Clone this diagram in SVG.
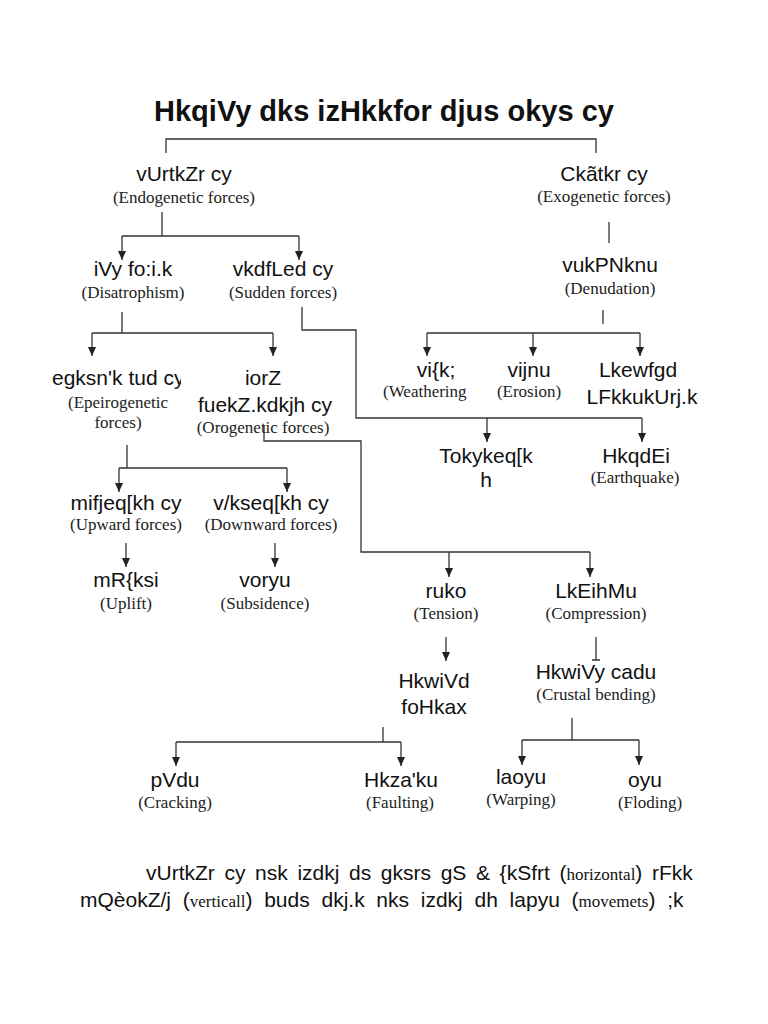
<svg xmlns="http://www.w3.org/2000/svg" width="768" height="1024" viewBox="0 0 768 1024">
<style>
.h{font-family:"Liberation Sans",Arial,sans-serif;font-size:21px;fill:#111;text-anchor:middle}
.e{font-family:"Liberation Serif","Times New Roman",serif;font-size:17px;fill:#222;text-anchor:middle}
.t{font-family:"Liberation Sans",Arial,sans-serif;font-size:29px;font-weight:bold;fill:#111;text-anchor:middle}
.p{font-family:"Liberation Sans",Arial,sans-serif;font-size:21px;fill:#111}
.ps{font-family:"Liberation Serif","Times New Roman",serif;font-size:17px}
.c{fill:none;stroke:#333;stroke-width:1.3}
.a{fill:none;stroke:#333;stroke-width:1.3;marker-end:url(#ah)}
</style>
<defs>
<marker id="ah" markerWidth="10" markerHeight="10" refX="9" refY="5" orient="auto" markerUnits="userSpaceOnUse"><path d="M0,1 L9,5 L0,9 z" fill="#222"/></marker>
<clipPath id="clipEp"><rect x="40" y="360" width="141" height="40"/></clipPath>
</defs>
<rect width="768" height="1024" fill="#fff"/>

<g id="connectors">
<path class="c" d="M166 153 V139 H596 V153"/>
<path class="c" d="M162 212 V236 M122 236 H299"/>
<path class="a" d="M122 236 V260"/>
<path class="a" d="M299 236 V260"/>
<path class="c" d="M122 312 V333 M92 333 H273"/>
<path class="a" d="M92 333 V356"/>
<path class="a" d="M273 333 V356"/>
<path class="c" d="M302 307 V330 H356 V418 H642"/>
<path class="a" d="M487 418 V442"/>
<path class="a" d="M642 418 V442"/>
<path class="c" d="M609 222 V243"/>
<path class="c" d="M603 310 V324 M427 333 H640"/>
<path class="a" d="M427 333 V356"/>
<path class="a" d="M533 333 V356"/>
<path class="a" d="M640 333 V356"/>
<path class="c" d="M127 445 V468 M119 468 H287"/>
<path class="a" d="M119 468 V492"/>
<path class="a" d="M287 468 V492"/>
<path class="c" d="M264 425 V441 H361 V552 H590"/>
<path class="a" d="M449 552 V577"/>
<path class="a" d="M590 552 V577"/>
<path class="a" d="M126 543 V567"/>
<path class="a" d="M275 543 V567"/>
<path class="a" d="M446 637 V661"/>
<path class="c" d="M596 637 V660 M592 660 H600"/>
<path class="c" d="M383 727 V742 M176 742 H401"/>
<path class="a" d="M176 742 V766"/>
<path class="a" d="M401 742 V766"/>
<path class="c" d="M572 718 V740 M522 740 H639"/>
<path class="a" d="M522 740 V765"/>
<path class="a" d="M639 740 V765"/>
</g>

<g id="title"><text class="t" x="384" y="121">HkqiVy dks izHkkfor djus okys cy</text></g>
<g id="n-endo"><text class="h" x="184" y="181">vUrtkZr cy</text><text class="e" x="184" y="203">(Endogenetic forces)</text></g>
<g id="n-exo"><text class="h" x="604" y="181">Ckãtkr cy</text><text class="e" x="604" y="202">(Exogenetic forces)</text></g>
<g id="n-dias"><text class="h" x="133" y="276">iVy fo:i.k</text><text class="e" x="133" y="298">(Disatrophism)</text></g>
<g id="n-sudden"><text class="h" x="283" y="276">vkdfLed cy</text><text class="e" x="283" y="298">(Sudden forces)</text></g>
<g id="n-denud"><text class="h" x="610" y="272">vukPNknu</text><text class="e" x="610" y="294">(Denudation)</text></g>
<g id="n-epeiro"><text class="h" x="52" y="385" style="text-anchor:start" clip-path="url(#clipEp)">egksn'k tud cy</text><text class="e" x="118" y="408">(Epeirogenetic</text><text class="e" x="118" y="428">forces)</text></g>
<g id="n-orogen"><text class="h" x="263" y="385">iorZ</text><text class="h" x="265" y="412">fuekZ.kdkjh cy</text><text class="e" x="263" y="433">(Orogenetic forces)</text></g>
<g id="n-weather"><text class="h" x="436" y="377">vi{k;</text><text class="e" x="383" y="397" style="text-anchor:start">(Weathering</text></g>
<g id="n-erosion"><text class="h" x="529" y="377">vijnu</text><text class="e" x="529" y="397">(Erosion)</text></g>
<g id="n-mass"><text class="h" x="638" y="377">Lkewfgd</text><text class="h" x="642" y="404">LFkkukUrj.k</text></g>
<g id="n-volcano"><text class="h" x="486" y="463">Tokykeq[k</text><text class="h" x="486" y="487">h</text></g>
<g id="n-quake"><text class="h" x="636" y="463">HkqdEi</text><text class="e" x="635" y="483">(Earthquake)</text></g>
<g id="n-upward"><text class="h" x="126" y="510">mifjeq[kh cy</text><text class="e" x="126" y="530">(Upward forces)</text></g>
<g id="n-downward"><text class="h" x="271" y="510">v/kseq[kh cy</text><text class="e" x="271" y="530">(Downward forces)</text></g>
<g id="n-uplift"><text class="h" x="126" y="587">mR{ksi</text><text class="e" x="126" y="609">(Uplift)</text></g>
<g id="n-subsid"><text class="h" x="265" y="587">voryu</text><text class="e" x="265" y="609">(Subsidence)</text></g>
<g id="n-tension"><text class="h" x="446" y="598">ruko</text><text class="e" x="446" y="619">(Tension)</text></g>
<g id="n-compress"><text class="h" x="596" y="598">LkEihMu</text><text class="e" x="596" y="619">(Compression)</text></g>
<g id="n-fracture"><text class="h" x="434" y="688">HkwiVd</text><text class="h" x="434" y="714">foHkax</text></g>
<g id="n-bending"><text class="h" x="596" y="679">HkwiVy cadu</text><text class="e" x="596" y="700">(Crustal bending)</text></g>
<g id="n-crack"><text class="h" x="175" y="787">pVdu</text><text class="e" x="175" y="808">(Cracking)</text></g>
<g id="n-fault"><text class="h" x="401" y="787">Hkza'ku</text><text class="e" x="400" y="808">(Faulting)</text></g>
<g id="n-warp"><text class="h" x="521" y="784">laoyu</text><text class="e" x="521" y="805">(Warping)</text></g>
<g id="n-fold"><text class="h" x="645" y="787">oyu</text><text class="e" x="650" y="808">(Floding)</text></g>

<g id="paragraph">
<text class="p" x="146" y="880" word-spacing="3.8">vUrtkZr cy nsk izdkj ds gksrs gS &amp; {kSfrt (<tspan class="ps">horizontal</tspan>) rFkk</text>
<text class="p" x="80" y="907" word-spacing="5.9">mQèokZ/j (<tspan class="ps">verticall</tspan>) buds dkj.k nks izdkj dh lapyu (<tspan class="ps">movemets</tspan>) ;k</text>
</g>
</svg>
